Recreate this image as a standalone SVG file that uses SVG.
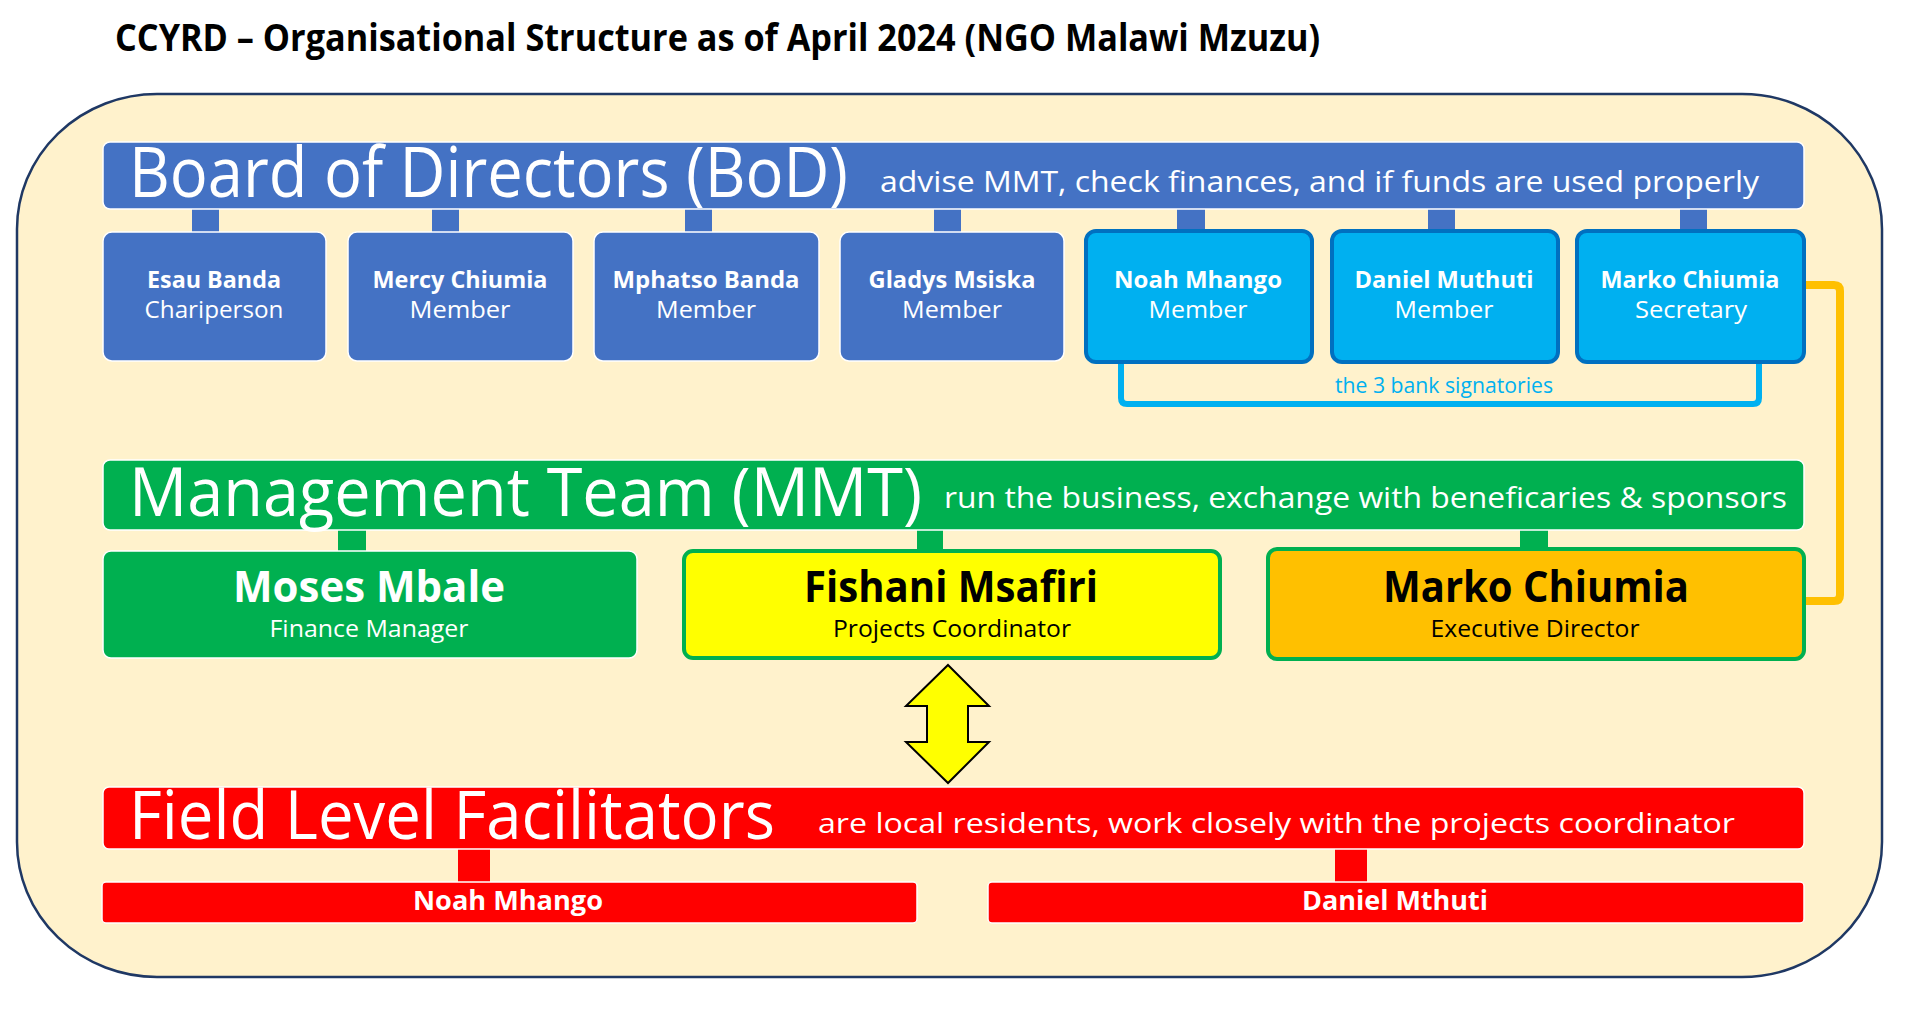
<svg xmlns="http://www.w3.org/2000/svg" width="1920" height="1012" viewBox="0 0 1920 1012">
<style>
text{font-family:"Open Sans","Noto Sans","Liberation Sans",sans-serif;}
.w{fill:#fff}
.k{fill:#000}
.b{font-weight:bold}
.bar-blue{fill:#4472C4;stroke:#fff;stroke-width:1.5}
.box-blue{fill:#4472C4;stroke:#fff;stroke-width:1.5}
.box-cyan{fill:#00B0F0;stroke:#0070C0;stroke-width:4}
.bar-green{fill:#00B050;stroke:#fff;stroke-width:1.5}
.box-green{fill:#00B050;stroke:#fff;stroke-width:1.5}
.bar-red{fill:#FF0000;stroke:#fff;stroke-width:1.5}
.stub-blue{fill:#4472C4}
.stub-green{fill:#00B050}
.stub-red{fill:#FF0000}
.mid{text-anchor:middle}
</style>
<rect width="1920" height="1012" fill="#fff"/>
<text id="title" class="k b" x="115" y="51" font-size="37" textLength="1205" lengthAdjust="spacingAndGlyphs">CCYRD – Organisational Structure as of April 2024 (NGO Malawi Mzuzu)</text>
<path id="frame" d="M157,94 H1742 A140,135 0 0 1 1882,229 V842 A140,135 0 0 1 1742,977 H157 A140,135 0 0 1 17,842 V229 A140,135 0 0 1 157,94 Z" fill="#FFF2CC" stroke="#1F3864" stroke-width="2.5"/>
<g id="connectors">
<rect class="stub-blue" x="192" y="207" width="27" height="27"/>
<rect class="stub-blue" x="432" y="207" width="27" height="27"/>
<rect class="stub-blue" x="685" y="207" width="27" height="27"/>
<rect class="stub-blue" x="934" y="207" width="27" height="27"/>
<rect class="stub-blue" x="1177" y="207" width="28" height="24"/>
<rect class="stub-blue" x="1428" y="207" width="27" height="24"/>
<rect class="stub-blue" x="1680" y="207" width="27" height="24"/>
<rect class="stub-green" x="338" y="529" width="28" height="23"/>
<rect class="stub-green" x="917" y="529" width="26" height="22"/>
<rect class="stub-green" x="1520" y="529" width="28" height="20"/>
<rect class="stub-red" x="458" y="848" width="32" height="35"/>
<rect class="stub-red" x="1335" y="848" width="32" height="35"/>
<path id="signatories" d="M1121,363 V398 Q1121,404 1127,404 H1753 Q1759,404 1759,398 V363" fill="none" stroke="#00B0F0" stroke-width="6"/>
<path id="secretary-link" d="M1805,285 H1834 Q1840,285 1840,291 V595 Q1840,601 1834,601 H1806" fill="none" stroke="#FFC000" stroke-width="8"/>
<path id="coord-arrow" d="M948,665 L989,706 H968 V742 H989 L948,783 L906,742 H927 V706 H906 Z" fill="#FFFF00" stroke="#000" stroke-width="2" stroke-linejoin="miter"/>
<text class="mid" x="1444" y="393" font-size="22" fill="#00B0F0" textLength="218" lengthAdjust="spacingAndGlyphs">the 3 bank signatories</text>
</g>
<g id="bod">
<rect class="bar-blue" x="103" y="142" width="1701" height="67" rx="7"/>
<text class="w" x="129" y="197" font-size="69" textLength="719" lengthAdjust="spacingAndGlyphs">Board of Directors (BoD)</text>
<text class="w" x="880" y="192" font-size="29" textLength="879" lengthAdjust="spacingAndGlyphs">advise MMT, check finances, and if funds are used properly</text>
</g>
<g id="esau">
<rect class="box-blue" x="103" y="232" width="223" height="129" rx="9"/>
<text class="w b mid" x="214" y="288" font-size="24" textLength="134" lengthAdjust="spacingAndGlyphs">Esau Banda</text>
<text class="w mid" x="214" y="318" font-size="24" textLength="139" lengthAdjust="spacingAndGlyphs">Chariperson</text>
</g>
<g id="mercy">
<rect class="box-blue" x="348" y="232" width="225" height="129" rx="9"/>
<text class="w b mid" x="460" y="288" font-size="24" textLength="175" lengthAdjust="spacingAndGlyphs">Mercy Chiumia</text>
<text class="w mid" x="460" y="318" font-size="24" textLength="101" lengthAdjust="spacingAndGlyphs">Member</text>
</g>
<g id="mphatso">
<rect class="box-blue" x="594" y="232" width="225" height="129" rx="9"/>
<text class="w b mid" x="706" y="288" font-size="24" textLength="187" lengthAdjust="spacingAndGlyphs">Mphatso Banda</text>
<text class="w mid" x="706" y="318" font-size="24" textLength="100" lengthAdjust="spacingAndGlyphs">Member</text>
</g>
<g id="gladys">
<rect class="box-blue" x="840" y="232" width="224" height="129" rx="9"/>
<text class="w b mid" x="952" y="288" font-size="24" textLength="167" lengthAdjust="spacingAndGlyphs">Gladys Msiska</text>
<text class="w mid" x="952" y="318" font-size="24" textLength="100" lengthAdjust="spacingAndGlyphs">Member</text>
</g>
<g id="noah-bod">
<rect class="box-cyan" x="1086" y="231" width="226" height="131" rx="10"/>
<text class="w b mid" x="1198" y="288" font-size="24" textLength="168" lengthAdjust="spacingAndGlyphs">Noah Mhango</text>
<text class="w mid" x="1198" y="318" font-size="24" textLength="99" lengthAdjust="spacingAndGlyphs">Member</text>
</g>
<g id="daniel-bod">
<rect class="box-cyan" x="1332" y="231" width="226" height="131" rx="10"/>
<text class="w b mid" x="1444" y="288" font-size="24" textLength="179" lengthAdjust="spacingAndGlyphs">Daniel Muthuti</text>
<text class="w mid" x="1444" y="318" font-size="24" textLength="99" lengthAdjust="spacingAndGlyphs">Member</text>
</g>
<g id="marko-bod">
<rect class="box-cyan" x="1577" y="231" width="227" height="131" rx="10"/>
<text class="w b mid" x="1690" y="288" font-size="24" textLength="179" lengthAdjust="spacingAndGlyphs">Marko Chiumia</text>
<text class="w mid" x="1691" y="318" font-size="24" textLength="112" lengthAdjust="spacingAndGlyphs">Secretary</text>
</g>
<g id="mmt">
<rect class="bar-green" x="103" y="460" width="1701" height="70" rx="7"/>
<text class="w" x="129" y="516" font-size="68" textLength="793" lengthAdjust="spacingAndGlyphs">Management Team (MMT)</text>
<text class="w" x="944" y="508" font-size="29" textLength="843" lengthAdjust="spacingAndGlyphs">run the business, exchange with beneficaries &amp; sponsors</text>
</g>
<g id="moses">
<rect class="box-green" x="103" y="551" width="534" height="107" rx="8"/>
<text class="w b mid" x="369" y="602" font-size="43" textLength="272" lengthAdjust="spacingAndGlyphs">Moses Mbale</text>
<text class="w mid" x="369" y="637" font-size="23" textLength="199" lengthAdjust="spacingAndGlyphs">Finance Manager</text>
</g>
<g id="fishani">
<rect x="684" y="551" width="536" height="107" rx="9" fill="#FFFF00" stroke="#00B050" stroke-width="4"/>
<text class="k b mid" x="951" y="602" font-size="43" textLength="294" lengthAdjust="spacingAndGlyphs">Fishani Msafiri</text>
<text class="k mid" x="952" y="637" font-size="23" textLength="238" lengthAdjust="spacingAndGlyphs">Projects Coordinator</text>
</g>
<g id="marko-ed">
<rect x="1268" y="549" width="536" height="110" rx="9" fill="#FFC000" stroke="#00B050" stroke-width="4"/>
<text class="k b mid" x="1536" y="602" font-size="43" textLength="306" lengthAdjust="spacingAndGlyphs">Marko Chiumia</text>
<text class="k mid" x="1535" y="637" font-size="23" textLength="209" lengthAdjust="spacingAndGlyphs">Executive Director</text>
</g>
<g id="flf">
<rect class="bar-red" x="103" y="787" width="1701" height="62" rx="6"/>
<text class="w" x="129" y="839" font-size="67" textLength="646" lengthAdjust="spacingAndGlyphs">Field Level Facilitators</text>
<text class="w" x="818" y="833" font-size="28" textLength="917" lengthAdjust="spacingAndGlyphs">are local residents, work closely with the projects coordinator</text>
</g>
<g id="noah-flf">
<rect class="bar-red" x="102" y="882" width="815" height="41" rx="4"/>
<text class="w b mid" x="508" y="910" font-size="26" textLength="190" lengthAdjust="spacingAndGlyphs">Noah Mhango</text>
</g>
<g id="daniel-flf">
<rect class="bar-red" x="988" y="882" width="816" height="41" rx="4"/>
<text class="w b mid" x="1395" y="910" font-size="26" textLength="186" lengthAdjust="spacingAndGlyphs">Daniel Mthuti</text>
</g>
</svg>
